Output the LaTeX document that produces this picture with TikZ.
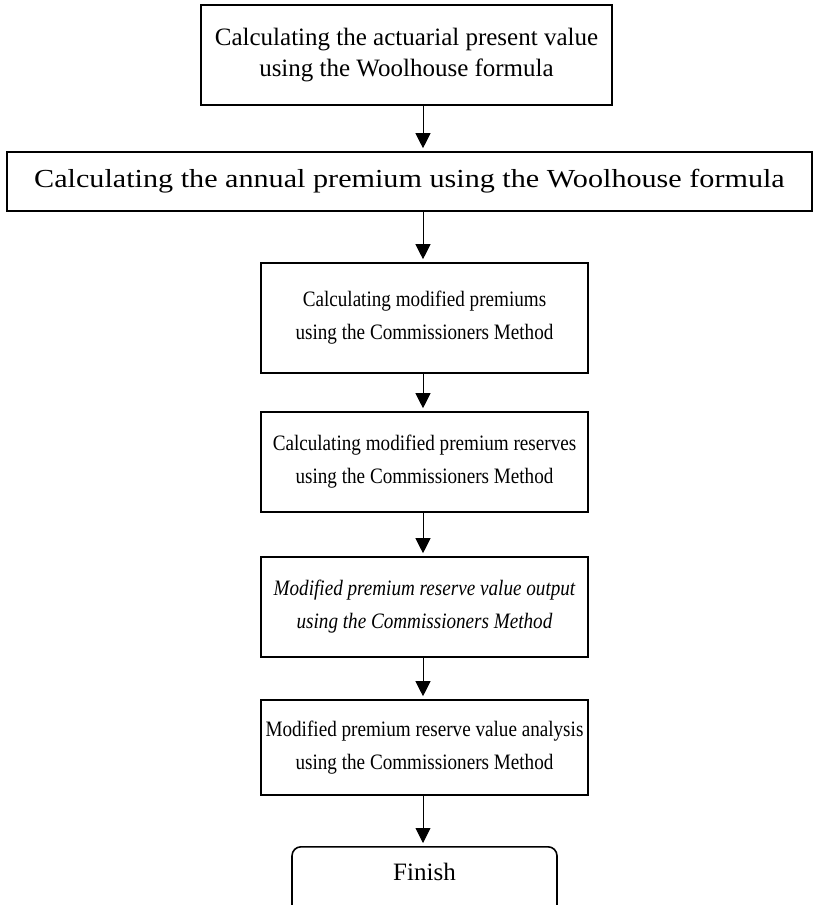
\documentclass[tikz,border=0pt]{standalone}
\usepackage{fontspec}
\setmainfont{Liberation Serif}
\newfontfamily\narrowfont[FakeStretch=0.87]{Liberation Serif}
\newfontfamily\wideface[FakeStretch=1.16]{Liberation Serif}
\usetikzlibrary{arrows.meta}
\begin{document}
\begin{tikzpicture}[x=1pt,y=-1pt,
  box/.style={draw, line width=1.6pt, align=center, inner sep=0pt,
    font=\fontsize{25}{31}\selectfont},
  narrowbox/.style={box, minimum width=327pt, font=\fontsize{22}{33}\narrowfont},
  arr/.style={line width=0.9pt, -{Triangle[width=15pt,length=15pt]}, shorten >=3pt}]
\useasboundingbox (0,0) rectangle (814,905);
\node[box, minimum width=411pt, minimum height=100pt] (b1) at (406.5,55) {Calculating the actuarial present value\\using the Woolhouse formula};
\node[box, minimum width=805pt, minimum height=59pt, font=\fontsize{26}{31}\wideface] (b2) at (409.5,181.5) {Calculating the annual premium using the Woolhouse formula};
\node[narrowbox, minimum height=110pt] (b3) at (424.5,318) {Calculating modified premiums\\using the Commissioners Method};
\node[narrowbox, minimum height=100pt] (b4) at (424.5,462) {Calculating modified premium reserves\\using the Commissioners Method};
\node[narrowbox, minimum height=100pt, font=\fontsize{22}{33}\narrowfont\itshape] (b5) at (424.5,607) {Modified premium reserve value output\\using the Commissioners Method};
\node[narrowbox, minimum height=95pt] (b6) at (424.5,747.5) {Modified premium reserve value analysis\\using the Commissioners Method};
\node[box, rounded corners=9pt, minimum width=265pt, text height=34pt, text depth=36pt, anchor=north] (fin) at (424.5,846) {Finish};
\coordinate (ax) at (423,0);
\draw[arr] (b1.south -| ax) -- (b2.north -| ax);
\draw[arr] (b2.south -| ax) -- (b3.north -| ax);
\draw[arr] (b3.south -| ax) -- (b4.north -| ax);
\draw[arr] (b4.south -| ax) -- (b5.north -| ax);
\draw[arr] (b5.south -| ax) -- (b6.north -| ax);
\draw[arr] (b6.south -| ax) -- (fin.north -| ax);
\end{tikzpicture}
\end{document}
